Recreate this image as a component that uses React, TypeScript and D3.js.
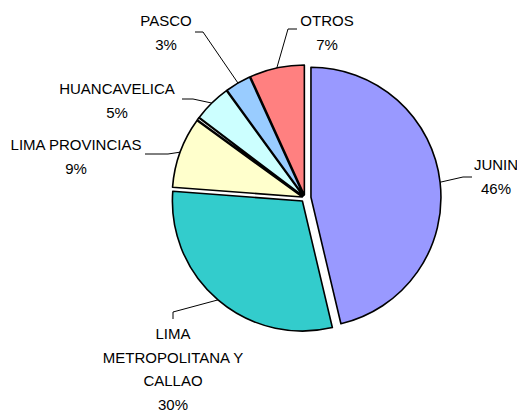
import React, { useRef, useEffect } from 'react';
import * as d3 from 'd3';

// data
const categories = ['JUNIN', 'LIMA METROPOLITANA Y CALLAO', 'LIMA PROVINCIAS', '', 'HUANCAVELICA', 'PASCO', 'OTROS'];
const shares = [46.3, 29.9, 8.8, 0.3, 4.7, 3.2, 6.8];
const colors = ['#9999FF', '#33CCCC', '#FFFFCC', '#FFFFFF', '#CCFFFF', '#99CCFF', '#FF8080'];

// layout (explode distance, label anchor, leader elbow & end)
const explode = [6, 4, 3, 3, 3, 3, 3];
const labelPos: [number, number][] = [[496, 165], [173, 334], [76, 145], [0, 0], [117, 89], [166, 21], [327, 21]];
const leaderElbow: [number, number][] = [[463, 177], [173, 312], [168, 154], [0, 0], [193, 99], [203, 32], [288, 29]];
const leaderEnd: [number, number][] = [[472, 177], [173, 319], [145, 154], [0, 0], [182, 99], [195, 32], [297, 29]];

const W = 517, H = 412;
const cx = 305, cy = 198, radius = 130;
const lineH = 23.5;

function wrap(s: string, max: number) {
  const words = s.split(' ');
  const lines: string[] = [];
  let cur = '';
  words.forEach(w => {
    const t = cur ? cur + ' ' + w : w;
    if (t.length > max && cur) { lines.push(cur); cur = w; } else cur = t;
  });
  if (cur) lines.push(cur);
  return lines;
}

function PieChart() {
  const ref = useRef<SVGSVGElement>(null);

  useEffect(() => {
    const svg = d3.select(ref.current);
    svg.selectAll('*').remove();

    const idx = d3.range(shares.length);
    const pie = d3.pie<number>().sort(null).value(i => shares[i]).startAngle(0).endAngle(2 * Math.PI);
    const arcs = pie(idx);
    const arc = d3.arc<d3.PieArcDatum<number>>().innerRadius(0).outerRadius(radius);
    const total = d3.sum(shares);
    const pct = d3.format('.0%');

    const off = (a: d3.PieArcDatum<number>) => {
      const m = (a.startAngle + a.endAngle) / 2;
      const e = explode[a.data];
      return [cx + e * Math.sin(m), cy - e * Math.cos(m)];
    };

    const g = svg.append('g');
    g.selectAll('path.slice').data(arcs).enter().append('path')
      .attr('class', 'slice')
      .attr('transform', a => `translate(${off(a)[0]},${off(a)[1]})`)
      .attr('d', arc)
      .attr('fill', a => colors[a.data])
      .attr('stroke', '#000')
      .attr('stroke-width', 1.6)
      .attr('stroke-linejoin', 'round');

    const labeled = arcs.filter(a => categories[a.data] !== '');

    // leader lines
    g.selectAll('path.leader').data(labeled).enter().append('path')
      .attr('class', 'leader')
      .attr('fill', 'none')
      .attr('stroke', '#000')
      .attr('stroke-width', 1)
      .attr('d', a => {
        const m = (a.startAngle + a.endAngle) / 2;
        const [ox, oy] = off(a);
        const p0 = [ox + radius * Math.sin(m), oy - radius * Math.cos(m)];
        const p1 = leaderElbow[a.data];
        const p2 = leaderEnd[a.data];
        return d3.line()([p0 as [number, number], p1, p2]);
      });

    const txt = g.selectAll('text').data(labeled).enter().append('text')
      .attr('text-anchor', 'middle')
      .attr('font-family', '"Liberation Sans", Arial, sans-serif')
      .attr('font-size', 15)
      .attr('fill', '#000');

    txt.each(function (a) {
      const lines = wrap(categories[a.data], 15).concat([pct(shares[a.data] / total)]);
      const [lx, ly] = labelPos[a.data];
      d3.select(this).selectAll('tspan').data(lines).enter().append('tspan')
        .attr('x', lx)
        .attr('y', (_, i) => ly + i * lineH)
        .attr('dy', '0.35em')
        .text(d => d);
    });
  }, []);

  return <svg ref={ref} width={W} height={H} style={{ position: 'absolute', left: 0, top: 0, background: '#fff' }} />;
}

export default function App() {
  return <PieChart />;
}
